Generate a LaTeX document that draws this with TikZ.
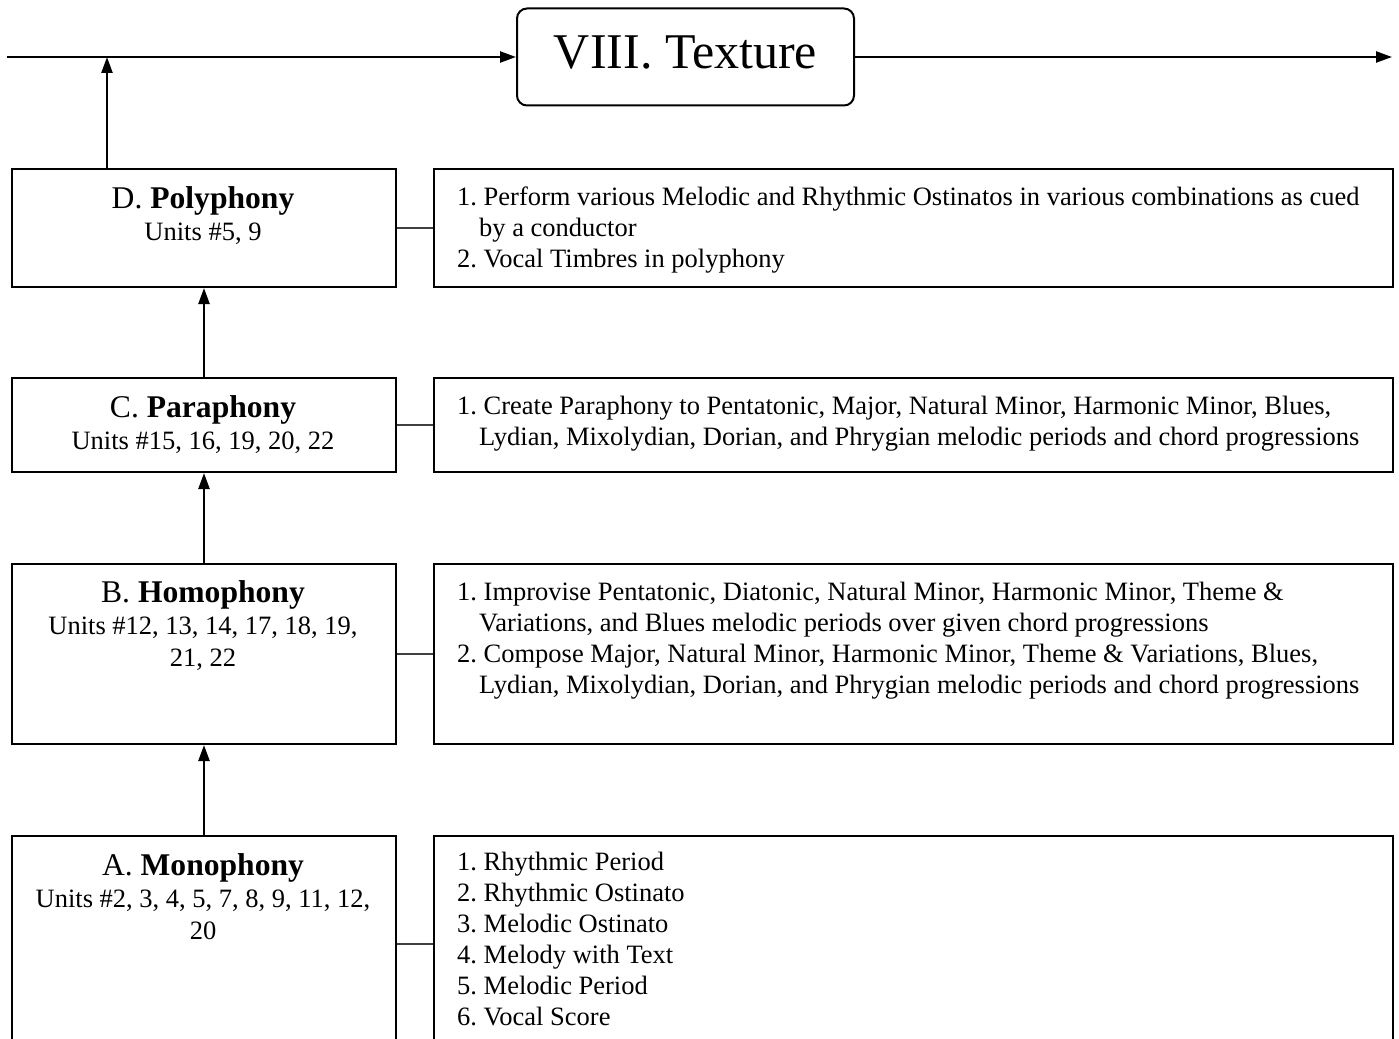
\documentclass[tikz,border=0pt]{standalone}
\usepackage{fontspec}
\setmainfont{Liberation Serif}
\usetikzlibrary{arrows.meta}
\begin{document}
\frenchspacing
\begin{tikzpicture}[x=1pt,y=-1pt,
  box/.style={draw,line width=2pt,rectangle,inner sep=0pt,anchor=north west},
  ltext/.style={anchor=base,text width=380pt,align=flush center,inner sep=0pt,font=\frenchspacing\fontsize{26.5}{32}\selectfont},
  rtext/.style={anchor=base west,text width=1000pt,align=flush left,inner sep=0pt,font=\frenchspacing\fontsize{26.5}{31}\selectfont},
  arr/.style={-{Triangle[length=16pt,width=11pt]},line width=2.4pt},
  conn/.style={line width=1.2pt,black!75}]
\useasboundingbox (0,0) rectangle (1399,1038);
\clip (0,0) rectangle (1399,1038);

% title
\node[draw,rounded corners=10pt,line width=2pt,minimum width=337pt,minimum height=97pt,
      inner sep=0pt,text depth=9pt,font=\fontsize{50}{50}\selectfont] (T) at (685.5,57) {VIII. Texture};
\coordinate (L) at (7,57);
\coordinate (R) at (1392,57);
\coordinate (J) at (107,57);

% left boxes
\node[box,minimum width=384pt,minimum height=118pt] (D) at (11,168) {};
\node[box,minimum width=384pt,minimum height=94pt] (C) at (11,377) {};
\node[box,minimum width=384pt,minimum height=180pt] (B) at (11,563) {};
\node[box,minimum width=384pt,minimum height=216pt] (A) at (11,835) {};

% right boxes
\node[box,minimum width=959pt,minimum height=118pt] (Dr) at (433,168) {};
\node[box,minimum width=959pt,minimum height=94pt] (Cr) at (433,377) {};
\node[box,minimum width=959pt,minimum height=180pt] (Br) at (433,563) {};
\node[box,minimum width=959pt,minimum height=216pt] (Ar) at (433,835) {};

% left texts
\node[ltext] (Dt) at (203,208) {{\fontsize{31.6}{31.6}\selectfont D. \textbf{Polyphony}}\\Units \#5, 9};
\node[ltext] (Ct) at (203,417) {{\fontsize{31.6}{31.6}\selectfont C. \textbf{Paraphony}}\\Units \#15, 16, 19, 20, 22};
\node[ltext] (Bt) at (203,602) {{\fontsize{31.6}{31.6}\selectfont B. \textbf{Homophony}}\\Units \#12, 13, 14, 17, 18, 19,\\21, 22};
\node[ltext] (At) at (203,875) {{\fontsize{31.6}{31.6}\selectfont A. \textbf{Monophony}}\\Units \#2, 3, 4, 5, 7, 8, 9, 11, 12,\\20};

% right texts
\node[rtext] (Drt) at (457,205) {1. Perform various Melodic and Rhythmic Ostinatos in various combinations as cued\\\hspace*{22pt}by a conductor\\2. Vocal Timbres in polyphony};
\node[rtext] (Crt) at (457,414) {1. Create Paraphony to Pentatonic, Major, Natural Minor, Harmonic Minor, Blues,\\\hspace*{22pt}Lydian, Mixolydian, Dorian, and Phrygian melodic periods and chord progressions};
\node[rtext] (Brt) at (457,600) {1. Improvise Pentatonic, Diatonic, Natural Minor, Harmonic Minor, Theme \&\\\hspace*{22pt}Variations, and Blues melodic periods over given chord progressions\\2. Compose Major, Natural Minor, Harmonic Minor, Theme \& Variations, Blues,\\\hspace*{22pt}Lydian, Mixolydian, Dorian, and Phrygian melodic periods and chord progressions};
\node[rtext] (Art) at (457,870) {1. Rhythmic Period\\2. Rhythmic Ostinato\\3. Melodic Ostinato\\4. Melody with Text\\5. Melodic Period\\6. Vocal Score};

% arrows
\draw[arr] (L) -- (T.west);
\draw[arr] (T.east) -- (R);
\draw[arr] (D.north -| J) -- (J);
\draw[arr] (C.north) -- (D.south);
\draw[arr] (B.north) -- (C.south);
\draw[arr] (A.north) -- (B.south);

% connectors
\draw[conn] (D.east) -- (Dr.west);
\draw[conn] (C.east) -- (Cr.west);
\draw[conn] (B.east) -- (Br.west);
\draw[conn] (A.east) -- (Ar.west);
\end{tikzpicture}
\end{document}
